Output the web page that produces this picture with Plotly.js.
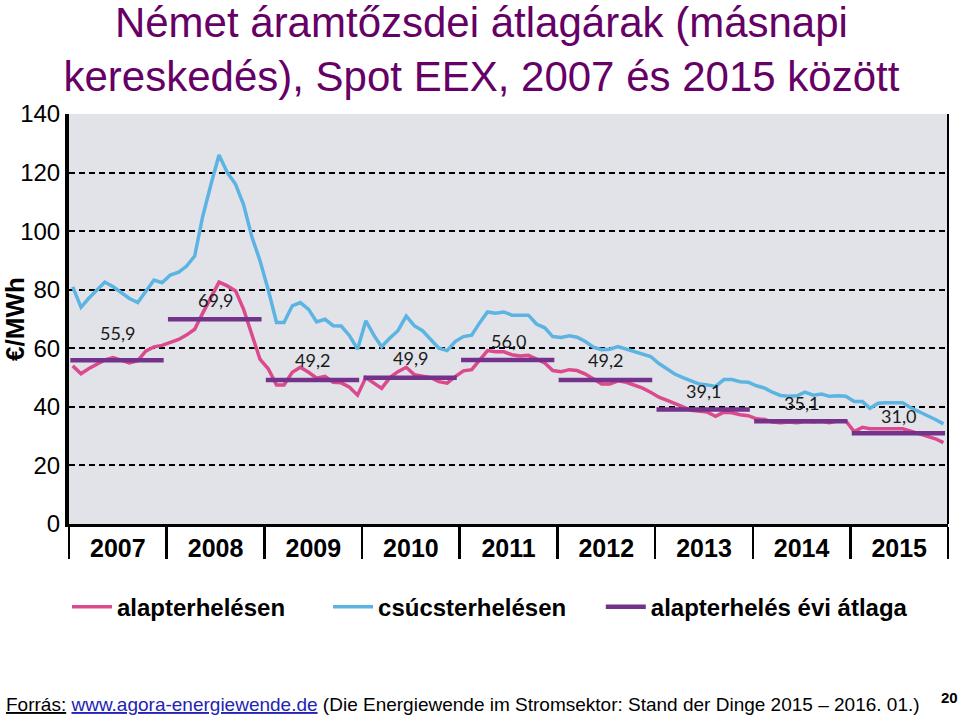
<!DOCTYPE html>
<html>
<head>
<meta charset="utf-8">
<script src="https://cdn.plot.ly/plotly-3.0.1.min.js"></script>
<style>
html, body { margin: 0; padding: 0; background: #ffffff; }
#chart { width: 959px; height: 717px; }
</style>
</head>
<body>
<div id="chart"></div>
<script>
// ---- data (monthly averages, €/MWh, Jan 2007 .. Dec 2015) ----
const years = [2007, 2008, 2009, 2010, 2011, 2012, 2013, 2014, 2015];

const baseLoad = [
  54, 51.3, 53, 54.5, 56, 56.8, 56, 55, 55.8, 59, 60.5, 61,
  62, 63, 64.5, 66.5, 72, 77.5, 82.6, 81.3, 79.6, 73.3, 64.3, 56.3,
  53, 47.5, 47.5, 51.8, 53.5, 51.8, 49.8, 50.4, 48.4, 48.2, 46.7, 44,
  50, 48.2, 46.3, 50, 52, 53.5, 51, 50.5, 50, 48.6, 48.1, 50.3,
  52.3, 52.7, 55.8, 59.2, 58.8, 58.8, 57.8, 57.4, 57.6, 56.3, 55, 52.4,
  52, 52.7, 52.4, 51.2, 49.5, 47.8, 47.8, 48.9, 48.4, 47.5, 46.4, 45,
  43.3, 42.2, 41, 40, 38.8, 38.4, 38.2, 36.8, 38.2, 38, 37.3, 37,
  35.9, 35.7, 34.8, 34.6, 34.8, 34.6, 35, 34.8, 35, 34.6, 35.2, 35.2,
  31.6, 33, 32.5, 32.5, 32.5, 32.5, 32.5, 31.7, 30.8, 30, 29.1, 27.8
];

const peakLoad = [
  81, 74, 77, 80, 82.6, 81, 79, 77, 75.6, 79.5, 83.3, 82.4,
  85, 86, 88, 91.5, 105, 116, 126, 120, 116, 109, 98, 90,
  80, 68.8, 68.8, 74.5, 75.6, 73.3, 69, 69.9, 67.7, 67.6, 64.3, 59.7,
  69.4, 64.3, 60.5, 63.5, 66, 71, 67.7, 66, 63, 60, 59.2, 62.3,
  64, 64.5, 68.5, 72.4, 72, 72.4, 71.3, 71.3, 71.3, 68.3, 67, 64,
  63.7, 64.3, 63.8, 62.3, 60.4, 59.5, 59.7, 60.6, 59.7, 58.8, 58, 57.2,
  54.8, 53, 51.2, 50, 48.9, 47.8, 47.5, 47, 49.3, 49.3, 48.6, 48.4,
  47.2, 46.4, 45, 43.9, 43.6, 43.8, 45, 44, 44.4, 43.6, 43.8, 43.6,
  41.8, 41.8, 39.5, 41.2, 41.4, 41.4, 41.4, 39.7, 38.4, 37.3, 35.7, 34.2
];

const annualBase = [55.9, 69.9, 49.2, 49.9, 56.0, 49.2, 39.1, 35.1, 31.0];

const seriesNames = ['alapterhelésen', 'csúcsterhelésen', 'alapterhelés évi átlaga'];

// ---- style settings ----
const labelShift = [27, 19, 20, 20, 19, 20, 18, 18, 17];
const colPink = '#dc4a8e', colBlue = '#5cb4e2', colPurple = '#74338a';
const FONT = 'Liberation Sans, Arial, sans-serif';

// ---- derived x values (mid-month dates) ----
const months = [];
years.forEach(y => {
  for (let m = 1; m <= 12; m++) months.push(y + '-' + String(m).padStart(2, '0') + '-15');
});

const avgX = [], avgY = [];
years.forEach((y, k) => {
  avgX.push(y + '-01-06', y + '-12-21', y + '-12-28');
  avgY.push(annualBase[k], annualBase[k], null);
});

const traces = [
  { x: months, y: baseLoad, name: seriesNames[0], type: 'scatter', mode: 'lines',
    legend: 'legend', line: { color: colPink, width: 3.5 } },
  { x: months, y: peakLoad, name: seriesNames[1], type: 'scatter', mode: 'lines',
    legend: 'legend2', line: { color: colBlue, width: 3.5 } },
  { x: avgX, y: avgY, name: seriesNames[2], type: 'scatter', mode: 'lines',
    legend: 'legend3', connectgaps: false, line: { color: colPurple, width: 4.5 } }
];

const annotations = years.map((y, k) => ({
  xref: 'x', yref: 'y', x: y + '-07-01', y: annualBase[k], yshift: labelShift[k],
  text: annualBase[k].toFixed(1).replace('.', ','), showarrow: false,
  font: { family: 'Lato, sans-serif', size: 18, color: '#1a1a1a' }
}));

annotations.push({
  xref: 'paper', yref: 'paper', x: -0.074, y: -0.441, xanchor: 'left', yanchor: 'middle',
  showarrow: false,
  text: '<u>Forrás:</u> <span style="color:#2323b4"><u>www.agora-energiewende.de</u></span> (Die Energiewende im Stromsektor: Stand der Dinge 2015 – 2016. 01.)',
  font: { family: FONT, size: 19, color: '#000' }
});
annotations.push({
  xref: 'paper', yref: 'paper', x: 1.002, y: -0.422, xanchor: 'center', yanchor: 'middle',
  showarrow: false, text: '<b>20</b>',
  font: { family: FONT, size: 15, color: '#000' }
});

const legendStyle = (xpos) => ({
  orientation: 'h', x: xpos, xanchor: 'left', y: -0.203, yanchor: 'middle',
  itemwidth: 40,
  font: { family: FONT, size: 24, color: '#000', weight: 'bold' },
  bgcolor: 'rgba(0,0,0,0)'
});

const layout = {
  width: 959, height: 717,
  margin: { l: 69, r: 11, t: 114, b: 193 },
  paper_bgcolor: '#ffffff',
  plot_bgcolor: '#e2e3e8',
  title: {
    text: 'Német áramtőzsdei átlagárak (másnapi<br>kereskedés), Spot EEX, 2007 és 2015 között',
    font: { family: FONT, size: 42, color: '#660066' },
    x: 0.502, xanchor: 'center', xref: 'container',
    y: 0.949, yanchor: 'top', yref: 'container'
  },
  xaxis: {
    type: 'date',
    range: ['2007-01-01', '2016-01-01'],
    tick0: '2007-01-01', dtick: 'M12', tickformat: '%Y',
    ticklabelmode: 'period',
    ticks: 'outside', ticklen: 32, tickwidth: 2.5, tickcolor: '#000',
    ticklabelstandoff: -32,
    showline: true, linewidth: 3, linecolor: '#000',
    showgrid: false, zeroline: false,
    tickfont: { family: FONT, size: 25, color: '#000', weight: 'bold' }
  },
  yaxis: {
    range: [0, 140], tick0: 0, dtick: 20,
    showgrid: true, gridcolor: '#000', gridwidth: 2, griddash: '6px,4px',
    zeroline: false,
    showline: true, linewidth: 4, linecolor: '#000',
    ticks: '',
    tickfont: { family: FONT, size: 24, color: '#000' },
    title: { text: '<b>€/MWh</b>', font: { family: FONT, size: 26, color: '#000' }, standoff: 2 }
  },
  showlegend: true,
  legend: legendStyle(-0.0023),
  legend2: legendStyle(0.2947),
  legend3: legendStyle(0.605),
  shapes: [
    { type: 'line', xref: 'paper', yref: 'paper', x0: 1, x1: 1, y0: 0, y1: 1,
      line: { color: '#000', width: 2 } }
  ],
  annotations: annotations
};

Plotly.newPlot('chart', traces, layout, { displayModeBar: false, staticPlot: true });
</script>
</body>
</html>
